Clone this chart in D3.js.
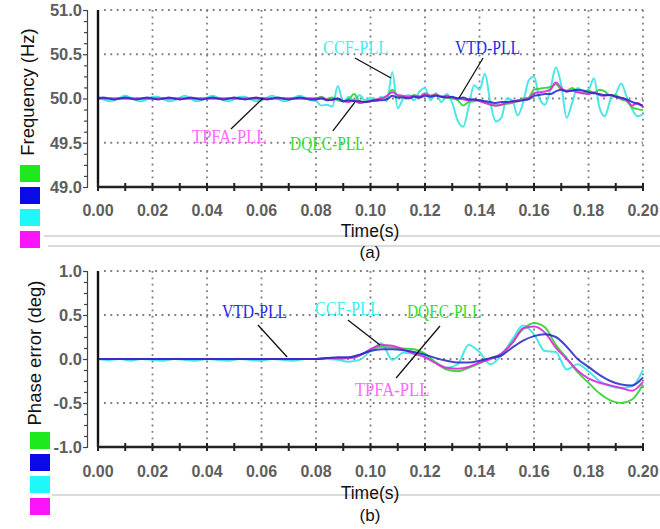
<!DOCTYPE html>
<html><head><meta charset="utf-8">
<script src="https://cdn.jsdelivr.net/npm/d3@7/dist/d3.min.js"></script>
<style>body{margin:0;background:#fff}svg{display:block;background:#fff}</style>
</head><body><svg id="c" width="660" height="529"></svg>
<script>
// ---------- data ----------
const seriesNames = ["DQEC-PLL", "VTD-PLL", "CCF-PLL", "TPFA-PLL"];
const xTickValues = [0, 0.02, 0.04, 0.06, 0.08, 0.10, 0.12, 0.14, 0.16, 0.18, 0.20];
const freqTicks = [49.0, 49.5, 50.0, 50.5, 51.0];
const phaseTicks = [-1.0, -0.5, 0.0, 0.5, 1.0];

// frequency panel: samples every 2 ms from 0 to 0.2 s
const tFreq = d3.range(101).map(i => i * 0.002);
const freqCCF = [
  50.02, 49.99, 49.97, 49.98, 50.01, 50.03, 50.01, 49.98, 49.97, 49.99,
  50.02, 50.02, 49.99, 49.97, 49.98, 50.01, 50.03, 50.00, 49.97, 49.98,
  50.01, 50.03, 50.01, 49.98, 49.97, 49.99, 50.02, 50.02, 49.99, 49.97,
  49.98, 50.01, 50.03, 50.00, 49.97, 49.98, 50.01, 50.03, 50.01, 49.98,
  49.97, 49.92, 49.93, 49.91, 50.14, 49.96, 50.02, 49.97, 50.04, 49.98,
  50.01, 49.98, 50.02, 49.97, 50.30, 49.89, 50.00, 50.04, 49.98, 50.08,
  50.12, 49.98, 50.06, 49.96, 50.05, 49.95, 49.75, 49.68, 49.90, 50.15,
  50.10, 50.28, 49.95, 49.74, 49.78, 50.00, 49.98, 49.81, 49.95, 50.20,
  50.25, 50.00, 49.93, 50.10, 50.35, 50.15, 49.78, 49.95, 50.12, 50.08,
  50.10, 50.23, 49.90, 49.80, 49.98, 50.05, 50.17, 50.02, 49.88, 49.80,
  49.82];
const freqTPFA = [
  50.00, 50.00, 50.00, 50.00, 50.00, 50.00, 50.00, 50.00, 50.00, 50.00,
  50.00, 50.00, 50.00, 50.00, 50.00, 50.00, 50.00, 50.00, 50.00, 50.00,
  50.00, 50.00, 50.00, 50.00, 50.00, 50.00, 50.00, 50.00, 50.00, 50.00,
  50.00, 50.00, 50.00, 50.00, 50.00, 50.00, 50.00, 50.00, 50.00, 50.00,
  50.00, 50.01, 49.99, 49.98, 50.00, 49.97, 49.96, 49.98, 49.95, 49.96,
  49.97, 49.99, 50.00, 50.03, 50.07, 50.04, 50.03, 50.02, 50.03, 50.02,
  50.05, 50.03, 50.04, 50.02, 50.03, 50.01, 50.00, 49.99, 49.98, 49.99,
  49.97, 49.95, 49.93, 49.92, 49.93, 49.95, 49.96, 49.98, 49.99, 50.00,
  50.06, 50.07, 50.08, 50.10, 50.18, 50.12, 50.08, 50.09, 50.07, 50.06,
  50.05, 50.07, 50.04, 50.03, 50.04, 50.02, 50.00, 49.98, 49.92, 49.95,
  49.90];
const freqDQEC = [
  50.00, 50.00, 50.00, 50.00, 50.00, 50.00, 50.00, 50.00, 50.00, 50.00,
  50.00, 50.00, 50.00, 50.00, 50.00, 50.00, 50.00, 50.00, 50.00, 50.00,
  50.00, 50.00, 50.00, 50.00, 50.00, 50.00, 50.00, 50.00, 50.00, 50.00,
  50.00, 50.00, 50.00, 50.00, 50.00, 50.00, 50.00, 50.00, 50.00, 50.00,
  50.00, 50.02, 49.99, 50.01, 49.98, 49.97, 49.99, 50.05, 49.97, 49.96,
  49.98, 49.97, 50.00, 50.02, 50.10, 50.03, 50.02, 50.01, 50.04, 50.02,
  50.06, 50.03, 50.05, 50.02, 50.01, 50.00, 49.98, 49.92, 49.96, 49.97,
  49.98, 49.96, 49.94, 49.92, 49.93, 49.94, 49.95, 49.97, 50.00, 50.01,
  50.10, 50.11, 50.12, 50.13, 50.16, 50.10, 50.09, 50.12, 50.08, 50.06,
  50.09, 50.06, 50.10, 50.08, 50.03, 50.04, 49.99, 49.97, 49.90, 49.88,
  49.87];
const freqVTD = [
  50.00, 50.01, 50.00, 49.99, 50.00, 50.01, 50.00, 49.99, 50.00, 50.01,
  50.00, 49.99, 50.00, 50.01, 50.00, 49.99, 50.00, 50.01, 50.00, 49.99,
  50.00, 50.01, 50.00, 49.99, 50.00, 50.01, 50.00, 49.99, 50.00, 50.01,
  50.00, 49.99, 50.00, 50.01, 50.00, 49.99, 50.00, 50.01, 50.00, 49.99,
  49.99, 50.00, 49.98, 49.99, 50.00, 49.97, 49.98, 49.97, 49.97, 49.96,
  49.97, 49.98, 49.98, 49.99, 50.03, 50.01, 50.01, 50.00, 50.02, 50.01,
  50.03, 50.02, 50.03, 50.02, 50.01, 50.02, 50.00, 50.01, 49.99, 49.99,
  49.98, 49.97, 49.96, 49.95, 49.96, 49.96, 49.97, 49.97, 49.98, 49.99,
  50.03, 50.04, 50.05, 50.05, 50.08, 50.10, 50.08, 50.09, 50.10, 50.09,
  50.07, 50.06, 50.05, 50.04, 50.04, 50.02, 50.01, 49.99, 49.96, 49.94,
  49.92];

// phase-error panel: samples every 4 ms from 0 to 0.2 s
const tPhase = d3.range(51).map(i => i * 0.004);
const phaseCCF = [
  0.00, -0.01, 0.00, -0.02, 0.00, -0.01, -0.02, 0.00, -0.01, -0.02,
  0.00, -0.01, -0.02, 0.00, -0.01, -0.02, 0.00, -0.01, -0.02, 0.00,
  0.00, 0.00, -0.01, -0.03, -0.01, 0.09, 0.18, -0.01, 0.07, 0.06,
  0.03, -0.04, -0.10, -0.06, 0.16, 0.08, -0.06, 0.04, 0.22, 0.38,
  0.28, 0.09, 0.08, -0.12, -0.06, -0.14, -0.25, -0.31, -0.33, -0.31,
  -0.12];
const phaseTPFA = [
  0, 0, 0, 0, 0, 0, 0, 0, 0, 0,
  0, 0, 0, 0, 0, 0, 0, 0, 0, 0,
  0.00, 0.01, 0.01, 0.01, 0.04, 0.11, 0.16, 0.15, 0.11, 0.06,
  0.02, -0.05, -0.10, -0.11, -0.09, -0.04, 0.00, 0.06, 0.18, 0.35,
  0.37, 0.30, 0.13, 0.00, -0.13, -0.22, -0.27, -0.30, -0.33, -0.36,
  -0.26];
const phaseDQEC = [
  0, 0, 0, 0, 0, 0, 0, 0, 0, 0,
  0, 0, 0, 0, 0, 0, 0, 0, 0, 0,
  0.00, 0.01, 0.00, 0.01, 0.04, 0.10, 0.14, 0.13, 0.12, 0.11,
  0.06, -0.04, -0.12, -0.14, -0.10, -0.05, 0.01, 0.06, 0.19, 0.34,
  0.41, 0.36, 0.16, 0.01, -0.15, -0.27, -0.39, -0.47, -0.50, -0.46,
  -0.29];
const phaseVTD = [
  0, 0, 0, 0, 0, 0, 0, 0, 0, 0,
  0, 0, 0, 0, 0, 0, 0, 0, 0, 0,
  0.00, 0.01, 0.02, 0.02, 0.05, 0.09, 0.11, 0.11, 0.10, 0.08,
  0.05, 0.01, -0.02, -0.04, -0.04, -0.02, 0.01, 0.04, 0.13, 0.21,
  0.26, 0.28, 0.25, 0.14, 0.00, -0.09, -0.18, -0.25, -0.29, -0.30,
  -0.21];

// annotations: [series index, label anchor t, label anchor value, leader from t,v, leader to t,v]
const freqNotes = [
  [3, 0.0345, 49.497, 0.0488, 49.655, 0.0606, 50.006],
  [0, 0.0705, 49.418, 0.0862, 49.633, 0.0943, 49.96],
  [2, 0.0826, 50.503, 0.0943, 50.458, 0.1075, 50.232],
  [1, 0.1310, 50.503, 0.1413, 50.458, 0.1325, 50.006]
];
const phaseNotes = [
  [1, 0.0455, 0.466, 0.0587, 0.386, 0.0694, 0.023],
  [2, 0.0796, 0.500, 0.0917, 0.443, 0.1035, 0.159],
  [0, 0.1134, 0.466, 0.1255, 0.375, 0.1094, -0.216],
  [3, 0.0943, -0.420, null, null, null, null]
];

// ---------- style ----------
const lineColors = ["#36d636", "#2424c8", "#40e6e6", "#e02ee0"];
const legendColors = ["#1ee81e", "#0a0ae6", "#1ef8f8", "#fa14fa"];
const noteColors = ["#2ee02e", "#2a2aee", "#3ef0f0", "#ff6aff"];
const sansFont = "'Liberation Sans', Arial, sans-serif";
const noteFont = "'Liberation Serif', 'Times New Roman', serif";

const svg = d3.select("#c");
const x = d3.scaleLinear().domain([0, 0.2]).range([98, 643]);

function drawPanel(p) {
  const y = d3.scaleLinear().domain(p.domain).range([p.bottom, p.top]);
  const g = svg.append("g");

  // dotted grid
  const grid = g.append("g").attr("stroke", "#7c7c7c").attr("stroke-width", 1.8)
    .attr("stroke-dasharray", "1.8,4.6");
  xTickValues.filter(d => d > 0).forEach(t => {
    grid.append("line").attr("x1", x(t)).attr("x2", x(t)).attr("y1", p.top).attr("y2", p.bottom);
  });
  p.ticks.filter(d => d > p.domain[0]).forEach(v => {
    grid.append("line").attr("x1", x(0) + 6).attr("x2", x(0.2)).attr("y1", y(v)).attr("y2", y(v));
  });

  // thin y axis with labels
  const yAxis = d3.axisLeft(y).tickValues(p.ticks).tickSize(4).tickPadding(1)
    .tickFormat(d => d.toFixed(1));
  const ya = g.append("g").attr("transform", `translate(87,0)`).call(yAxis);
  ya.select(".domain").attr("stroke", "#444").attr("stroke-width", 1.2);
  ya.selectAll(".tick line").attr("stroke", "#444").attr("stroke-width", 1.2);
  ya.selectAll(".tick text").attr("font-family", sansFont).attr("font-size", 16.5)
    .attr("font-weight", "bold").attr("fill", "#5e5e5e");
  const minor = d3.range(0, 17).map(i => p.domain[0] + i * (p.domain[1] - p.domain[0]) / 16)
    .filter((d, i) => i % 4 !== 0);
  const ym = g.append("g").attr("transform", `translate(87,0)`)
    .call(d3.axisLeft(y).tickValues(minor).tickSize(3).tickFormat(""));
  ym.select(".domain").remove();
  ym.selectAll(".tick line").attr("stroke", "#444").attr("stroke-width", 1.2);

  // series lines
  const order = [2, 0, 3, 1];
  order.forEach(si => {
    const vals = p.series[si];
    const line = d3.line().x((d, i) => x(p.t[i])).y(d => y(d)).curve(d3.curveMonotoneX);
    g.append("path").datum(vals).attr("fill", "none").attr("stroke", lineColors[si])
      .attr("stroke-width", 2).attr("stroke-opacity", si === 1 ? 0.85 : 0.95)
      .attr("stroke-linejoin", "round").attr("d", line);
  });

  // thick frame: left border + x axis
  g.append("line").attr("x1", x(0)).attr("x2", x(0)).attr("y1", p.top).attr("y2", p.bottom)
    .attr("stroke", "#111").attr("stroke-width", 2.4);
  g.append("line").attr("x1", x(0)).attr("x2", x(0.2)).attr("y1", p.bottom).attr("y2", p.bottom)
    .attr("stroke", "#222").attr("stroke-width", 2.4);
  const xMinor = d3.range(0, 21).map(i => i * 0.01);
  g.append("g").selectAll("line").data(xMinor).join("line")
    .attr("x1", d => x(d)).attr("x2", d => x(d)).attr("y1", p.bottom - 4).attr("y2", p.bottom + 4)
    .attr("stroke", "#222").attr("stroke-width", 2);
  g.append("g").selectAll("text").data(xTickValues).join("text")
    .attr("x", d => x(d)).attr("y", p.xLabelBase).attr("text-anchor", "middle")
    .attr("font-family", sansFont).attr("font-size", 16).attr("font-weight", "bold")
    .attr("fill", "#5e5e5e").text(d => d.toFixed(2));

  // y label
  g.append("text").attr("transform", `translate(${p.ylabX},${p.ylabY}) rotate(-90)`)
    .attr("text-anchor", "middle").attr("font-family", sansFont).attr("font-size", 18.5)
    .attr("fill", "#111").text(p.ylabel);

  // legend squares
  legendColors.forEach((c, i) => {
    g.append("rect").attr("x", p.legX).attr("y", p.legY + i * 22).attr("width", 20).attr("height", 17)
      .attr("fill", c);
  });

  // separators and titles
  p.seps.forEach(s => {
    g.append("line").attr("x1", s[1]).attr("x2", 660).attr("y1", s[0]).attr("y2", s[0])
      .attr("stroke", "#b8b8b8").attr("stroke-width", 1.2);
  });
  g.append("text").attr("x", 370).attr("y", p.timeBase).attr("text-anchor", "middle")
    .attr("font-family", sansFont).attr("font-size", 17.5).attr("fill", "#111").text("Time(s)");
  g.append("text").attr("x", 370).attr("y", p.capBase).attr("text-anchor", "middle")
    .attr("font-family", sansFont).attr("font-size", 17).attr("fill", "#111").text(p.caption);

  // annotations
  p.notes.forEach(n => {
    const name = seriesNames[n[0]];
    if (n[3] !== null) {
      g.append("line").attr("x1", x(n[3])).attr("y1", y(n[4])).attr("x2", x(n[5])).attr("y2", y(n[6]))
        .attr("stroke", "#111").attr("stroke-width", 1.3);
    }
    g.append("text").attr("x", x(n[1])).attr("y", y(n[2]))
      .attr("font-family", noteFont).attr("font-size", 19)
      .attr("textLength", name.length * 9.3).attr("lengthAdjust", "spacingAndGlyphs")
      .attr("fill", noteColors[n[0]]).text(name);
  });
}

drawPanel({
  domain: [49, 51], top: 10, bottom: 187, ticks: freqTicks,
  t: tFreq, series: [freqDQEC, freqVTD, freqCCF, freqTPFA],
  xLabelBase: 215.5, ylabel: "Frequency (Hz)", ylabX: 34, ylabY: 92,
  legX: 20, legY: 165, seps: [[236, 44], [246, 48]],
  timeBase: 236.5, capBase: 258, caption: "(a)", notes: freqNotes
});
drawPanel({
  domain: [-1, 1], top: 271, bottom: 447, ticks: phaseTicks,
  t: tPhase, series: [phaseDQEC, phaseVTD, phaseCCF, phaseTPFA],
  xLabelBase: 477, ylabel: "Phase error (deg)", ylabX: 41, ylabY: 353,
  legX: 30, legY: 432, seps: [[495, 52]],
  timeBase: 499, capBase: 521, caption: "(b)", notes: phaseNotes
});
</script></body></html>
